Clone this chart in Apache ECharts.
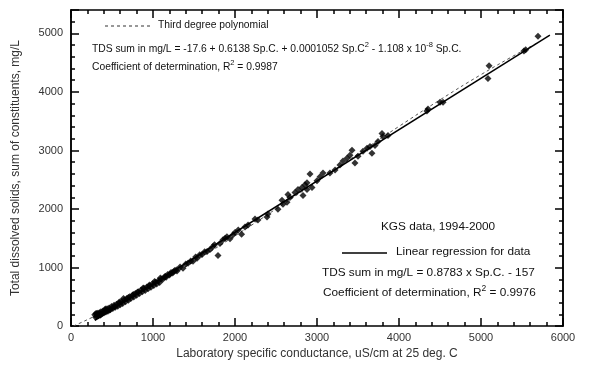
<!DOCTYPE html>
<html><head><meta charset="utf-8">
<script src="https://cdn.jsdelivr.net/npm/echarts@6/dist/echarts.min.js"></script>
<style>html,body{margin:0;padding:0;background:#fff}#c{width:589px;height:365px}</style>
</head><body><div id="c"></div>
<script>
// Measured samples: laboratory specific conductance (uS/cm) and TDS sum (mg/L)
const spc = [290,300,305,315,325,335,345,355,365,375,390,400,415,425,440,450,465,480,495,510,525,540,555,570,585,600,615,630,650,665,680,700,715,730,750,765,785,800,820,835,855,870,890,905,925,940,960,975,995,1010,1030,1045,1065,1080,1100,1120,1140,1160,1180,1200,1220,1240,1265,1285,
  310,360,420,470,530,590,640,700,760,810,880,950,1020,1090,1150,1250,
  1207,1293,1330,1366,1400,1427,1460,1488,1520,1537,1570,1598,1630,1659,1695,1732,1750,1793,1817,1854,1880,1902,1939,1976,2000,2040,2080,2122,
  2159,2244,2280,2390,2402,2524,2573,2585,2634,2646,2670,2732,2768,2817,2829,2854,2878,2915,2939,3000,3037,3073,
  2878,3158,3220,3280,3317,3366,3402,3427,3463,3500,3561,3610,3646,3670,3707,3744,3793,3805,3866,
  4341,4354,4500,4537,5085,5098,5524,5545,5695];
const tds = [195,150,215,170,220,175,230,190,245,205,260,225,280,240,295,255,310,280,335,300,355,320,375,340,395,365,420,385,445,415,470,440,500,470,525,495,555,525,585,555,615,585,645,610,670,640,700,665,725,695,750,720,775,745,805,800,840,835,880,875,915,905,950,960,
  210,190,290,275,330,410,470,490,540,580,650,690,760,820,850,930,
  889,940,1010,990,1060,1074,1110,1107,1180,1158,1220,1225,1270,1275,1309,1359,1390,1208,1409,1476,1500,1527,1493,1560,1600,1640,1570,1695,
  1728,1829,1812,1862,1913,1997,2148,2080,2114,2248,2198,2282,2332,2366,2232,2416,2332,2600,2366,2483,2550,2617,
  2450,2617,2668,2752,2819,2869,2920,3003,2785,2903,2987,3037,3070,2953,3087,3154,3289,3238,3255,
  3674,3708,3826,3826,4228,4446,4698,4720,4950];
// Linear regression line endpoints as drawn
const linX = [290, 5840];
const linY = [100, 4970];
// Third degree polynomial curve as drawn
const polyX = [30, 500, 1000, 1500, 2000, 2500, 3000, 3500, 4000, 4500, 5000, 5500, 5700];
const polyY = [1, 314, 690, 1102, 1542, 2001, 2471, 2944, 3412, 3865, 4296, 4697, 4847];
const xMax = 6000, yMax = 5400;

const FONT = 'Liberation Sans';
const chart = echarts.init(document.getElementById('c'), null, {renderer: 'canvas'});
const axLine = {show: true, onZero: false, lineStyle: {color: '#000', width: 1.5}};
const tickStyle = {color: '#000', width: 1.5};
function xAx(pos, labels) {
  return {
    type: 'value', position: pos, min: 0, max: xMax, interval: 1000,
    axisLine: axLine,
    axisTick: {show: true, inside: true, length: 8, lineStyle: tickStyle},
    minorTick: {show: true, splitNumber: 5, length: 4, lineStyle: tickStyle},
    splitLine: {show: false}, minorSplitLine: {show: false},
    axisLabel: labels ? {show: true, color: '#333', fontSize: 11, fontFamily: FONT, margin: 6,
      formatter: v => String(v)} : {show: false},
    name: labels ? 'Laboratory specific conductance, uS/cm at 25 deg. C' : '',
    nameLocation: 'middle', nameGap: 17,
    nameTextStyle: {color: '#333', fontSize: 12, fontFamily: FONT}
  };
}
function yAx(pos, interval, len, labels) {
  return {
    type: 'value', position: pos, min: 0, max: yMax, interval: interval,
    axisLine: axLine,
    axisTick: {show: true, inside: true, length: len, lineStyle: tickStyle},
    splitLine: {show: false},
    axisLabel: labels ? {show: true, color: '#333', fontSize: 11, fontFamily: FONT, margin: 8,
      showMaxLabel: false,
      formatter: v => (v % 1000 === 0 ? String(v) : '')} : {show: false},
    name: labels ? 'Total dissolved solids, sum of constituents, mg/L' : '',
    nameLocation: 'middle', nameGap: 49,
    nameTextStyle: {color: '#333', fontSize: 12, fontFamily: FONT}
  };
}
const txt = (x, y, text, size, rich) => ({
  type: 'text', left: x, top: y, z: 100,
  style: {text: text, fontSize: size, fontFamily: FONT, fill: '#111', rich: rich}
});
const rich10 = {n: {fontSize: 10.3, fontFamily: FONT, fill: '#111', lineHeight: 13, verticalAlign: 'bottom'},
                s: {fontSize: 7.5, fontFamily: FONT, fill: '#111', lineHeight: 13, verticalAlign: 'top'}};
const rich12 = {n: {fontSize: 11.8, fontFamily: FONT, fill: '#111', lineHeight: 15, verticalAlign: 'bottom'},
                s: {fontSize: 8.5, fontFamily: FONT, fill: '#111', lineHeight: 15, verticalAlign: 'top'}};

chart.setOption({
  animation: false,
  backgroundColor: '#fff',
  grid: {left: 71, right: 26, top: 10, bottom: 34},
  xAxis: [xAx('bottom', true), xAx('top', false)],
  yAxis: [yAx('left', 200, 4, true), yAx('left', 1000, 8, false), yAx('right', 200, 4, false), yAx('right', 1000, 8, false)],
  series: [
    {type: 'line', data: polyX.map((x, i) => [x, polyY[i]]), smooth: true, symbol: 'none',
     lineStyle: {color: '#555', width: 1, type: [3, 3]}, z: 3},
    {type: 'line', data: linX.map((x, i) => [x, linY[i]]), symbol: 'none',
     lineStyle: {color: '#000', width: 1.5}, z: 4},
    {type: 'scatter', data: spc.map((x, i) => [x, tds[i]]), symbol: 'diamond', symbolSize: 7,
     itemStyle: {color: '#000'}, z: 5}
  ],
  graphic: [
    {type: 'line', shape: {x1: 105, y1: 26, x2: 153, y2: 26}, style: {stroke: '#333', lineWidth: 1, lineDash: [3, 3]}},
    txt(158, 20, 'Third degree polynomial', 10.3),
    txt(92, 41, '{n|TDS sum in mg/L = -17.6 + 0.6138 Sp.C. + 0.0001052 Sp.C}{s|2}{n| - 1.108 x 10}{s|-8}{n| Sp.C.}', 10.3, rich10),
    txt(92, 59, '{n|Coefficient of determination, R}{s|2}{n| = 0.9987}', 10.3, rich10),
    txt(381, 221, 'KGS data, 1994-2000', 11.8),
    {type: 'line', shape: {x1: 342, y1: 253, x2: 387, y2: 253}, style: {stroke: '#000', lineWidth: 1.5}},
    txt(396, 246, 'Linear regression for data', 11.8),
    txt(322, 267, 'TDS sum in mg/L = 0.8783 x Sp.C. - 157', 11.8),
    txt(323, 284, '{n|Coefficient of determination, R}{s|2}{n| = 0.9976}', 11.8, rich12)
  ]
});
</script></body></html>
